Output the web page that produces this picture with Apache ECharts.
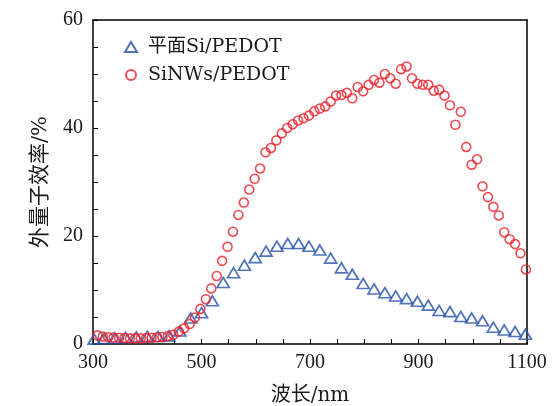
<!DOCTYPE html>
<html>
<head>
<meta charset="utf-8">
<script src="https://cdn.jsdelivr.net/npm/echarts/dist/echarts.min.js"></script>
<style>
  html, body { margin: 0; padding: 0; background: #fff; }
  #chart { width: 552px; height: 406px; }
</style>
</head>
<body>
<div id="chart"></div>
<script>
// 平面Si/PEDOT (nm, %)
var planarWavelength = [302, 320, 340, 360, 380, 400, 420, 440, 460, 480,
    500, 520, 540, 559, 579, 599, 619, 639, 659, 679,
    698, 718, 738, 758, 778, 798, 818, 838, 858, 878,
    898, 918, 938, 958, 978, 998, 1018, 1038, 1058, 1078, 1097];
var planarEqe = [0.9, 1.0, 1.1, 1.2, 1.3, 1.4, 1.4, 1.5, 2.4, 4.8,
    5.8, 8.0, 11.4, 13.2, 14.6, 16.0, 17.2, 18.1, 18.6, 18.6,
    18.1, 17.4, 15.9, 14.1, 12.9, 11.2, 10.2, 9.5, 8.9, 8.4,
    7.9, 7.2, 6.2, 6.0, 5.1, 4.8, 4.3, 3.1, 2.6, 2.3, 1.8];

// SiNWs/PEDOT (nm, %)
var nwWavelength = [308, 318, 328, 338, 348, 358, 368, 378, 388, 398,
    408, 418, 428, 438, 448, 458, 468, 478, 488, 498,
    508, 518, 528, 538, 548, 558, 568, 578, 588, 598,
    608, 618, 628, 638, 648, 658, 668, 678, 688, 698,
    708, 718, 728, 738, 748, 758, 768, 778, 788, 798,
    808, 818, 828, 838, 848, 858, 868, 878, 888, 898,
    908, 918, 928, 938, 948, 958, 968, 978, 988, 998,
    1008, 1018, 1028, 1038, 1048, 1058, 1068, 1078, 1088, 1098];
var nwEqe = [1.6, 1.4, 1.25, 1.2, 1.15, 1.1, 1.05, 1.05, 1.05, 1.1,
    1.15, 1.25, 1.3, 1.45, 1.7, 2.3, 2.9, 3.7, 4.9, 6.5,
    8.3, 10.3, 12.6, 15.4, 18.0, 20.8, 23.9, 26.2, 28.6, 30.6,
    32.5, 35.5, 36.3, 37.7, 39.0, 40.0, 40.7, 41.4, 41.8, 42.3,
    43.1, 43.6, 44.0, 44.9, 46.0, 46.1, 46.5, 45.5, 47.6, 46.8,
    48.0, 48.9, 48.4, 50.0, 49.2, 48.2, 50.9, 51.4, 49.2, 48.2,
    48.0, 48.0, 46.9, 47.1, 46.0, 44.2, 40.6, 43.0, 36.5, 33.2,
    34.2, 29.2, 27.2, 25.4, 23.8, 20.7, 19.4, 18.5, 16.8, 13.8];

var xTickLabels = [300, 500, 700, 900, 1100];
var yTickLabels = [0, 20, 40, 60];
var seriesNames = ['平面Si/PEDOT', 'SiNWs/PEDOT'];

var serif = '"Liberation Serif", "Noto Sans CJK SC", serif';
var wideSerif = '"DejaVu Serif", "Noto Sans CJK SC", serif';

function pairs(xs, ys) {
    return xs.map(function (x, i) { return [x, ys[i]]; });
}

function frameAxis(pos) {
    return {
        type: 'value',
        position: pos,
        min: pos === 'top' ? 300 : 0,
        max: pos === 'top' ? 1100 : 60,
        axisLine: { show: true, onZero: false, lineStyle: { color: '#000', width: 1.5 } },
        axisTick: { show: false },
        axisLabel: { show: false },
        splitLine: { show: false }
    };
}

var option = {
    backgroundColor: '#fff',
    animation: false,
    grid: { left: 93, right: 25, top: 20, bottom: 62, outerBoundsMode: 'none', containLabel: false },
    legend: {
        orient: 'vertical',
        left: 119,
        top: 31,
        itemWidth: 12,
        itemHeight: 10,
        itemGap: 6,
        textStyle: { fontFamily: wideSerif, fontSize: 19, color: '#1a1a1a', lineHeight: 22, padding: [0, 0, 0, 6] },
        data: [
            { name: seriesNames[0], icon: 'triangle' },
            { name: seriesNames[1], icon: 'circle' }
        ]
    },
    xAxis: [{
        type: 'value',
        min: 300,
        max: 1100,
        interval: 50,
        name: '波长/nm',
        nameLocation: 'middle',
        nameGap: 42,
        nameTextStyle: { fontFamily: wideSerif, fontSize: 20, color: '#1a1a1a' },
        axisLine: { onZero: false, lineStyle: { color: '#000', width: 1.5 } },
        axisTick: { inside: true, length: 5, lineStyle: { color: '#000', width: 1 } },
        axisLabel: {
            fontFamily: serif, fontSize: 20, color: '#1a1a1a', margin: 9,
            formatter: function (v) { return xTickLabels.indexOf(v) >= 0 ? String(v) : ''; }
        },
        splitLine: { show: false }
    }, frameAxis('top')],
    yAxis: [{
        type: 'value',
        min: 0,
        max: 60,
        interval: 5,
        name: '外量子效率/%',
        nameLocation: 'middle',
        nameGap: 42,
        nameTextStyle: { fontFamily: wideSerif, fontSize: 21, color: '#1a1a1a' },
        axisLine: { onZero: false, lineStyle: { color: '#000', width: 1.5 } },
        axisTick: { inside: true, length: 5, lineStyle: { color: '#000', width: 1 } },
        axisLabel: {
            fontFamily: serif, fontSize: 20, color: '#1a1a1a', margin: 10,
            formatter: function (v) { return yTickLabels.indexOf(v) >= 0 ? String(v) : ''; }
        },
        splitLine: { show: false }
    }, frameAxis('right')],
    series: [
        {
            name: seriesNames[0],
            type: 'scatter',
            symbol: 'triangle',
            symbolSize: [12, 10],
            itemStyle: { color: 'rgba(0,0,0,0)', borderColor: '#2550a8', borderWidth: 1.7 },
            data: pairs(planarWavelength, planarEqe)
        },
        {
            name: seriesNames[1],
            type: 'scatter',
            symbol: 'circle',
            symbolSize: 9,
            itemStyle: { color: 'rgba(0,0,0,0)', borderColor: '#e8202a', borderWidth: 1.6 },
            data: pairs(nwWavelength, nwEqe)
        }
    ]
};

var chart = echarts.init(document.getElementById('chart'));
chart.setOption(option);
</script>
</body>
</html>
